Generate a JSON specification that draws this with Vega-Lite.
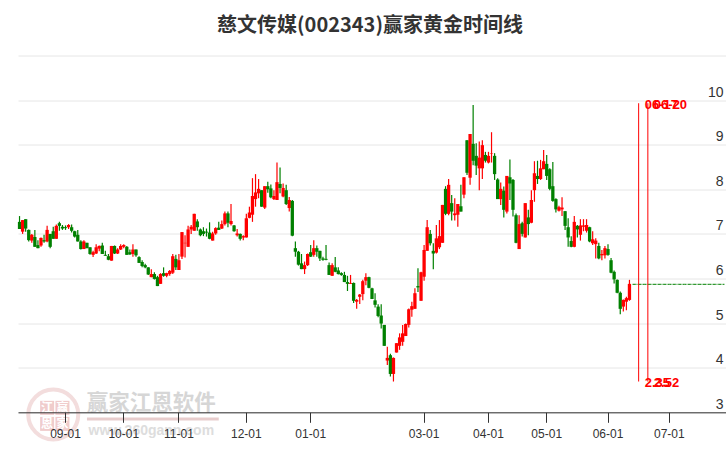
{"$schema":"https://vega.github.io/schema/vega-lite/v6.json","width":708,"height":356.8,"autosize":"none","padding":{"left":18,"top":55.5,"right":0,"bottom":37.7},"background":"white","title":{"text":"慈文传媒(002343)赢家黄金时间线","font":"Noto Sans CJK SC","fontSize":20,"fontWeight":"bold","color":"#333333","anchor":"middle","offset":20,"dx":-2},"config":{"view":{"stroke":null}},"datasets":{"candles":[
{"date":"2023-08-11","open":7.27,"high":7.40,"low":7.11,"close":7.11},
{"date":"2023-08-14","open":7.05,"high":7.31,"low":7.00,"close":7.31},
{"date":"2023-08-15","open":7.33,"high":7.33,"low":7.05,"close":7.12},
{"date":"2023-08-16","open":7.09,"high":7.10,"low":6.83,"close":6.86},
{"date":"2023-08-17","open":6.85,"high":7.00,"low":6.80,"close":6.98},
{"date":"2023-08-18","open":6.93,"high":7.09,"low":6.71,"close":6.71},
{"date":"2023-08-21","open":6.75,"high":6.86,"low":6.68,"close":6.68},
{"date":"2023-08-22","open":6.74,"high":6.92,"low":6.71,"close":6.91},
{"date":"2023-08-23","open":6.86,"high":6.98,"low":6.80,"close":6.83},
{"date":"2023-08-24","open":6.83,"high":7.18,"low":6.81,"close":7.09},
{"date":"2023-08-25","open":7.00,"high":7.00,"low":6.68,"close":6.71},
{"date":"2023-08-28","open":7.06,"high":7.16,"low":6.89,"close":6.89},
{"date":"2023-08-29","open":6.89,"high":7.21,"low":6.89,"close":7.18},
{"date":"2023-08-30","open":7.24,"high":7.27,"low":7.07,"close":7.18},
{"date":"2023-08-31","open":7.16,"high":7.20,"low":7.09,"close":7.12},
{"date":"2023-09-01","open":7.15,"high":7.19,"low":7.09,"close":7.13},
{"date":"2023-09-04","open":7.15,"high":7.22,"low":7.11,"close":7.20},
{"date":"2023-09-05","open":7.15,"high":7.21,"low":7.03,"close":7.07},
{"date":"2023-09-06","open":7.06,"high":7.07,"low":6.92,"close":6.94},
{"date":"2023-09-07","open":6.98,"high":7.09,"low":6.83,"close":6.83},
{"date":"2023-09-08","open":6.83,"high":6.86,"low":6.65,"close":6.66},
{"date":"2023-09-11","open":6.66,"high":6.86,"low":6.66,"close":6.83},
{"date":"2023-09-12","open":6.80,"high":6.80,"low":6.68,"close":6.68},
{"date":"2023-09-13","open":6.70,"high":6.70,"low":6.53,"close":6.55},
{"date":"2023-09-14","open":6.53,"high":6.62,"low":6.48,"close":6.59},
{"date":"2023-09-15","open":6.56,"high":6.77,"low":6.55,"close":6.70},
{"date":"2023-09-18","open":6.67,"high":6.74,"low":6.61,"close":6.73},
{"date":"2023-09-19","open":6.74,"high":6.80,"low":6.55,"close":6.55},
{"date":"2023-09-20","open":6.53,"high":6.62,"low":6.51,"close":6.51},
{"date":"2023-09-21","open":6.50,"high":6.55,"low":6.41,"close":6.42},
{"date":"2023-09-22","open":6.40,"high":6.73,"low":6.40,"close":6.73},
{"date":"2023-09-25","open":6.73,"high":6.74,"low":6.55,"close":6.56},
{"date":"2023-09-26","open":6.56,"high":6.68,"low":6.55,"close":6.65},
{"date":"2023-09-27","open":6.65,"high":6.77,"low":6.64,"close":6.73},
{"date":"2023-10-08","open":6.71,"high":6.77,"low":6.68,"close":6.75},
{"date":"2023-10-09","open":6.71,"high":6.73,"low":6.53,"close":6.53},
{"date":"2023-10-10","open":6.59,"high":6.65,"low":6.53,"close":6.54},
{"date":"2023-10-11","open":6.55,"high":6.77,"low":6.49,"close":6.65},
{"date":"2023-10-12","open":6.65,"high":6.65,"low":6.49,"close":6.52},
{"date":"2023-10-13","open":6.48,"high":6.50,"low":6.35,"close":6.35},
{"date":"2023-10-16","open":6.37,"high":6.41,"low":6.25,"close":6.28},
{"date":"2023-10-17","open":6.30,"high":6.33,"low":6.23,"close":6.25},
{"date":"2023-10-18","open":6.25,"high":6.25,"low":6.08,"close":6.09},
{"date":"2023-10-19","open":6.03,"high":6.21,"low":6.03,"close":6.10},
{"date":"2023-10-20","open":6.10,"high":6.14,"low":5.98,"close":5.99},
{"date":"2023-10-23","open":6.03,"high":6.06,"low":5.83,"close":5.83},
{"date":"2023-10-24","open":5.88,"high":6.12,"low":5.88,"close":6.10},
{"date":"2023-10-25","open":6.12,"high":6.25,"low":6.04,"close":6.06},
{"date":"2023-10-26","open":6.06,"high":6.13,"low":6.03,"close":6.12},
{"date":"2023-10-27","open":6.10,"high":6.19,"low":6.06,"close":6.17},
{"date":"2023-10-30","open":6.13,"high":6.55,"low":6.10,"close":6.50},
{"date":"2023-10-31","open":6.44,"high":6.53,"low":6.19,"close":6.25},
{"date":"2023-11-01","open":6.19,"high":6.55,"low":6.19,"close":6.41},
{"date":"2023-11-02","open":6.49,"high":7.04,"low":6.44,"close":7.04},
{"date":"2023-11-03","open":6.79,"high":6.97,"low":6.47,"close":6.80},
{"date":"2023-11-06","open":6.71,"high":7.18,"low":6.71,"close":7.10},
{"date":"2023-11-07","open":7.10,"high":7.20,"low":7.00,"close":7.16},
{"date":"2023-11-08","open":7.07,"high":7.45,"low":7.07,"close":7.45},
{"date":"2023-11-09","open":7.28,"high":7.33,"low":7.07,"close":7.15},
{"date":"2023-11-10","open":7.10,"high":7.12,"low":6.95,"close":6.97},
{"date":"2023-11-13","open":7.06,"high":7.15,"low":6.95,"close":7.00},
{"date":"2023-11-14","open":7.05,"high":7.12,"low":6.94,"close":7.03},
{"date":"2023-11-15","open":7.03,"high":7.26,"low":6.88,"close":6.89},
{"date":"2023-11-16","open":6.85,"high":7.05,"low":6.85,"close":7.01},
{"date":"2023-11-17","open":7.01,"high":7.15,"low":6.98,"close":7.13},
{"date":"2023-11-20","open":7.14,"high":7.27,"low":7.09,"close":7.09},
{"date":"2023-11-21","open":7.12,"high":7.30,"low":7.11,"close":7.22},
{"date":"2023-11-22","open":7.22,"high":7.50,"low":7.19,"close":7.46},
{"date":"2023-11-23","open":7.46,"high":7.50,"low":7.15,"close":7.25},
{"date":"2023-11-24","open":7.22,"high":7.67,"low":7.19,"close":7.29},
{"date":"2023-11-27","open":7.19,"high":7.20,"low":7.05,"close":7.06},
{"date":"2023-11-28","open":6.97,"high":7.11,"low":6.94,"close":7.01},
{"date":"2023-11-29","open":7.00,"high":7.01,"low":6.85,"close":6.89},
{"date":"2023-11-30","open":6.92,"high":6.97,"low":6.86,"close":6.95},
{"date":"2023-12-01","open":6.92,"high":7.45,"low":6.92,"close":7.35},
{"date":"2023-12-04","open":7.36,"high":7.61,"low":7.35,"close":7.48},
{"date":"2023-12-05","open":7.43,"high":8.25,"low":7.27,"close":7.85},
{"date":"2023-12-06","open":7.78,"high":8.34,"low":7.61,"close":7.93},
{"date":"2023-12-07","open":7.91,"high":8.23,"low":7.80,"close":8.01},
{"date":"2023-12-08","open":7.98,"high":7.98,"low":7.61,"close":7.61},
{"date":"2023-12-11","open":7.59,"high":8.07,"low":7.56,"close":8.07},
{"date":"2023-12-12","open":8.07,"high":8.17,"low":7.92,"close":8.00},
{"date":"2023-12-13","open":8.02,"high":8.11,"low":7.80,"close":7.82},
{"date":"2023-12-14","open":7.78,"high":7.98,"low":7.76,"close":7.85},
{"date":"2023-12-15","open":7.76,"high":8.60,"low":7.76,"close":8.16},
{"date":"2023-12-18","open":8.12,"high":8.49,"low":7.91,"close":8.03},
{"date":"2023-12-19","open":7.84,"high":8.13,"low":7.82,"close":8.03},
{"date":"2023-12-20","open":7.98,"high":8.10,"low":7.65,"close":7.67},
{"date":"2023-12-21","open":7.58,"high":7.83,"low":7.50,"close":7.76},
{"date":"2023-12-22","open":7.74,"high":7.76,"low":6.95,"close":6.96},
{"date":"2023-12-25","open":6.68,"high":6.83,"low":6.49,"close":6.60},
{"date":"2023-12-26","open":6.60,"high":6.62,"low":6.29,"close":6.31},
{"date":"2023-12-27","open":6.34,"high":6.55,"low":6.21,"close":6.21},
{"date":"2023-12-28","open":6.21,"high":6.38,"low":6.10,"close":6.30},
{"date":"2023-12-29","open":6.30,"high":6.56,"low":6.28,"close":6.55},
{"date":"2024-01-02","open":6.59,"high":6.75,"low":6.48,"close":6.49},
{"date":"2024-01-03","open":6.53,"high":6.86,"low":6.49,"close":6.68},
{"date":"2024-01-04","open":6.68,"high":6.74,"low":6.49,"close":6.60},
{"date":"2024-01-05","open":6.62,"high":6.62,"low":6.39,"close":6.45},
{"date":"2024-01-08","open":6.45,"high":6.49,"low":6.40,"close":6.42},
{"date":"2024-01-09","open":6.44,"high":6.75,"low":6.41,"close":6.42},
{"date":"2024-01-10","open":6.30,"high":6.36,"low":6.08,"close":6.08},
{"date":"2024-01-11","open":6.06,"high":6.34,"low":6.06,"close":6.30},
{"date":"2024-01-12","open":6.25,"high":6.48,"low":6.14,"close":6.15},
{"date":"2024-01-15","open":6.18,"high":6.25,"low":6.09,"close":6.10},
{"date":"2024-01-16","open":6.12,"high":6.14,"low":6.06,"close":6.08},
{"date":"2024-01-17","open":6.08,"high":6.15,"low":5.92,"close":5.92},
{"date":"2024-01-18","open":5.92,"high":6.06,"low":5.72,"close":5.88},
{"date":"2024-01-19","open":5.88,"high":6.08,"low":5.88,"close":5.90},
{"date":"2024-01-22","open":5.90,"high":5.91,"low":5.45,"close":5.50},
{"date":"2024-01-23","open":5.48,"high":5.54,"low":5.32,"close":5.52},
{"date":"2024-01-24","open":5.59,"high":5.65,"low":5.43,"close":5.64},
{"date":"2024-01-25","open":5.65,"high":5.97,"low":5.51,"close":5.94},
{"date":"2024-01-26","open":5.95,"high":6.12,"low":5.85,"close":6.03},
{"date":"2024-01-29","open":6.03,"high":6.04,"low":5.78,"close":5.79},
{"date":"2024-01-30","open":5.78,"high":5.79,"low":5.54,"close":5.54},
{"date":"2024-01-31","open":5.51,"high":5.67,"low":5.35,"close":5.41},
{"date":"2024-02-01","open":5.37,"high":5.42,"low":5.13,"close":5.16},
{"date":"2024-02-02","open":5.17,"high":5.42,"low":4.88,"close":4.99},
{"date":"2024-02-05","open":4.96,"high":4.96,"low":4.49,"close":4.49},
{"date":"2024-02-06","open":4.16,"high":4.47,"low":4.06,"close":4.22},
{"date":"2024-02-07","open":4.28,"high":4.31,"low":3.80,"close":3.86},
{"date":"2024-02-08","open":3.86,"high":4.23,"low":3.69,"close":4.22},
{"date":"2024-02-19","open":4.34,"high":4.55,"low":4.34,"close":4.55},
{"date":"2024-02-20","open":4.49,"high":4.77,"low":4.40,"close":4.68},
{"date":"2024-02-21","open":4.58,"high":4.96,"low":4.49,"close":4.77},
{"date":"2024-02-22","open":4.71,"high":4.99,"low":4.71,"close":4.98},
{"date":"2024-02-23","open":4.96,"high":5.33,"low":4.90,"close":5.31},
{"date":"2024-02-26","open":5.30,"high":5.48,"low":5.14,"close":5.38},
{"date":"2024-02-27","open":5.32,"high":5.78,"low":5.32,"close":5.67},
{"date":"2024-02-28","open":5.83,"high":6.23,"low":5.70,"close":5.80},
{"date":"2024-02-29","open":5.50,"high":6.15,"low":5.50,"close":6.14},
{"date":"2024-03-01","open":6.04,"high":6.75,"low":5.95,"close":6.64},
{"date":"2024-03-04","open":6.62,"high":7.31,"low":6.62,"close":7.15},
{"date":"2024-03-05","open":7.00,"high":7.09,"low":6.74,"close":6.79},
{"date":"2024-03-06","open":6.62,"high":6.79,"low":6.21,"close":6.56},
{"date":"2024-03-07","open":6.58,"high":7.20,"low":6.56,"close":6.90},
{"date":"2024-03-08","open":6.70,"high":7.31,"low":6.66,"close":6.95},
{"date":"2024-03-11","open":6.80,"high":7.65,"low":6.80,"close":7.65},
{"date":"2024-03-12","open":8.01,"high":8.07,"low":7.42,"close":7.45},
{"date":"2024-03-13","open":7.45,"high":8.23,"low":7.42,"close":8.10},
{"date":"2024-03-14","open":7.69,"high":7.87,"low":7.30,"close":7.50},
{"date":"2024-03-15","open":7.42,"high":7.80,"low":7.30,"close":7.46},
{"date":"2024-03-18","open":7.43,"high":7.67,"low":7.16,"close":7.67},
{"date":"2024-03-19","open":7.62,"high":8.10,"low":7.50,"close":7.50},
{"date":"2024-03-20","open":7.88,"high":8.27,"low":7.80,"close":8.27},
{"date":"2024-03-21","open":9.10,"high":9.10,"low":8.32,"close":8.37},
{"date":"2024-03-22","open":8.26,"high":9.24,"low":8.10,"close":9.24},
{"date":"2024-03-25","open":9.02,"high":9.89,"low":8.54,"close":8.64},
{"date":"2024-03-26","open":8.75,"high":9.03,"low":8.32,"close":8.53},
{"date":"2024-03-27","open":8.47,"high":9.07,"low":7.98,"close":8.71},
{"date":"2024-03-28","open":8.47,"high":9.10,"low":8.23,"close":8.99},
{"date":"2024-03-29","open":8.77,"high":8.84,"low":8.60,"close":8.64},
{"date":"2024-04-01","open":8.60,"high":8.84,"low":8.58,"close":8.75},
{"date":"2024-04-02","open":8.80,"high":9.28,"low":8.60,"close":8.81},
{"date":"2024-04-03","open":8.75,"high":8.81,"low":8.21,"close":8.34},
{"date":"2024-04-08","open":8.22,"high":8.25,"low":7.78,"close":7.78},
{"date":"2024-04-09","open":7.78,"high":8.15,"low":7.65,"close":8.01},
{"date":"2024-04-10","open":7.97,"high":8.06,"low":7.37,"close":7.54},
{"date":"2024-04-11","open":7.50,"high":8.30,"low":7.46,"close":8.30},
{"date":"2024-04-12","open":8.27,"high":8.67,"low":7.76,"close":8.13},
{"date":"2024-04-15","open":8.21,"high":8.23,"low":7.39,"close":7.54},
{"date":"2024-04-16","open":7.42,"high":7.46,"low":6.79,"close":6.80},
{"date":"2024-04-17","open":6.66,"high":7.42,"low":6.66,"close":7.22},
{"date":"2024-04-18","open":7.24,"high":7.27,"low":6.94,"close":7.00},
{"date":"2024-04-19","open":6.92,"high":7.69,"low":6.92,"close":7.69},
{"date":"2024-04-22","open":7.37,"high":7.54,"low":6.97,"close":7.22},
{"date":"2024-04-23","open":7.25,"high":7.98,"low":7.24,"close":7.76},
{"date":"2024-04-24","open":7.98,"high":8.63,"low":7.72,"close":8.36},
{"date":"2024-04-25","open":8.30,"high":8.64,"low":8.12,"close":8.23},
{"date":"2024-04-26","open":8.23,"high":8.66,"low":8.21,"close":8.47},
{"date":"2024-04-29","open":8.45,"high":8.88,"low":8.45,"close":8.63},
{"date":"2024-05-06","open":8.57,"high":8.77,"low":8.21,"close":8.30},
{"date":"2024-05-07","open":8.45,"high":8.47,"low":7.98,"close":8.01},
{"date":"2024-05-08","open":8.07,"high":8.61,"low":7.72,"close":7.74},
{"date":"2024-05-09","open":7.78,"high":7.80,"low":7.48,"close":7.55},
{"date":"2024-05-10","open":7.52,"high":7.63,"low":7.50,"close":7.60},
{"date":"2024-05-13","open":7.55,"high":7.82,"low":7.40,"close":7.59},
{"date":"2024-05-14","open":7.51,"high":7.51,"low":7.09,"close":7.18},
{"date":"2024-05-15","open":7.15,"high":7.35,"low":6.71,"close":6.92},
{"date":"2024-05-16","open":6.84,"high":6.95,"low":6.70,"close":6.71},
{"date":"2024-05-17","open":6.71,"high":7.40,"low":6.70,"close":7.27},
{"date":"2024-05-20","open":7.18,"high":7.20,"low":6.92,"close":7.10},
{"date":"2024-05-21","open":6.98,"high":7.33,"low":6.85,"close":7.19},
{"date":"2024-05-22","open":7.16,"high":7.33,"low":7.06,"close":7.19},
{"date":"2024-05-23","open":7.07,"high":7.33,"low":7.03,"close":7.20},
{"date":"2024-05-24","open":7.15,"high":7.16,"low":6.81,"close":6.83},
{"date":"2024-05-27","open":6.79,"high":7.06,"low":6.75,"close":6.88},
{"date":"2024-05-28","open":6.77,"high":6.90,"low":6.45,"close":6.85},
{"date":"2024-05-29","open":6.73,"high":6.80,"low":6.43,"close":6.45},
{"date":"2024-05-30","open":6.52,"high":6.64,"low":6.41,"close":6.55},
{"date":"2024-05-31","open":6.52,"high":6.73,"low":6.45,"close":6.68},
{"date":"2024-06-03","open":6.66,"high":6.77,"low":6.51,"close":6.53},
{"date":"2024-06-04","open":6.41,"high":6.46,"low":6.12,"close":6.13},
{"date":"2024-06-05","open":6.15,"high":6.18,"low":5.89,"close":5.98},
{"date":"2024-06-06","open":5.97,"high":5.98,"low":5.67,"close":5.68},
{"date":"2024-06-07","open":5.68,"high":5.71,"low":5.20,"close":5.32},
{"date":"2024-06-10","open":5.37,"high":5.53,"low":5.26,"close":5.52},
{"date":"2024-06-11","open":5.48,"high":5.59,"low":5.29,"close":5.56},
{"date":"2024-06-12","open":5.52,"high":5.97,"low":5.50,"close":5.88}
],"guide":[
{"date":"2024-06-13","level":5.87},{"date":"2024-06-14","level":5.87},{"date":"2024-06-17","level":5.87},{"date":"2024-06-18","level":5.87},{"date":"2024-06-19","level":5.87},{"date":"2024-06-20","level":5.87},{"date":"2024-06-21","level":5.87},{"date":"2024-06-24","level":5.87},{"date":"2024-06-25","level":5.87},{"date":"2024-06-26","level":5.87},{"date":"2024-06-27","level":5.87},{"date":"2024-06-28","level":5.87},{"date":"2024-07-01","level":5.87},{"date":"2024-07-02","level":5.87},{"date":"2024-07-03","level":5.87},{"date":"2024-07-04","level":5.87},{"date":"2024-07-05","level":5.87},{"date":"2024-07-08","level":5.87},{"date":"2024-07-09","level":5.87},{"date":"2024-07-10","level":5.87},{"date":"2024-07-11","level":5.87},{"date":"2024-07-12","level":5.87},{"date":"2024-07-15","level":5.87},{"date":"2024-07-16","level":5.87},{"date":"2024-07-17","level":5.87},{"date":"2024-07-18","level":5.87},{"date":"2024-07-19","level":5.87},{"date":"2024-07-22","level":5.87},{"date":"2024-07-23","level":5.87},{"date":"2024-07-24","level":5.87},{"date":"2024-07-25","level":5.87}
],"timelines":[
{"date":"2024-06-17","from":3.69,"to":9.93,"label":"06-17","ratio":"2.35"},
{"date":"2024-06-20","from":3.69,"to":9.93,"label":"06-20","ratio":"2.52"}
],"wmtext":[
{"date":"2023-10-19","price":3.19,"text":"赢家江恩软件"}
],"wmurl":[
{"date":"2023-10-19","price":2.58,"text":"www.360gann.com"}
],"wmbar":[
{"date":"2023-09-12","end":"2023-11-20","price":2.85}
],"wmring":[
{"date":"2023-08-28","price":2.95}
],"wmbox":[
{"date":"2023-08-24","price":3.1,"text":"江"},
{"date":"2023-08-31","price":3.1,"text":"赢"},
{"date":"2023-08-24","price":2.74,"text":"恩"},
{"date":"2023-08-31","price":2.74,"text":"家"}
]},
"encoding":{"x":{"field":"date","type":"ordinal","scale":{"type":"band","paddingInner":0,"paddingOuter":0},"axis":{"title":null,"zindex":1,"values":["2023-09-01","2023-10-08","2023-11-01","2023-12-01","2024-01-02","2024-03-01","2024-04-01","2024-05-06","2024-06-03","2024-07-01"],"labelExpr":"slice(datum.value,5,7)+'-01'","labelAngle":0,"labelFont":"Liberation Sans","labelFontSize":12,"labelColor":"#333333","labelPadding":6,"labelOverlap":false,"labelFlush":false,"tickSize":10,"tickColor":"#333333","domainColor":"#333333","tickWidth":1,"domainWidth":1,"grid":false}}},
"layer":[
{"data":{"name":"wmring"},"mark":{"type":"point","shape":"circle","size":2500,"filled":false,"stroke":"#eecfcf","strokeWidth":4,"clip":false},"encoding":{"y":{"field":"price","type":"quantitative","scale":{"domain":[3,11],"nice":false,"zero":false},"axis":{"orient":"right","title":null,"values":[3,4,5,6,7,8,9,10,11],"labelExpr":"datum.value==11?'':datum.value","grid":true,"gridColor":"#e6e6e6","gridWidth":1,"domain":false,"ticks":false,"labelFont":"Liberation Sans","labelFontSize":14,"labelColor":"#333333","labelAlign":"right","labelBaseline":"bottom","labelPadding":-3,"labelOffset":-1}}}},
{"data":{"name":"wmbox"},"mark":{"type":"point","shape":"square","size":196,"filled":true,"fill":"#f0cccc","opacity":1,"clip":false},"encoding":{"y":{"field":"price","type":"quantitative"}}},
{"data":{"name":"wmbox"},"mark":{"type":"text","font":"Noto Sans CJK SC","fontSize":12,"fontWeight":"bold","color":"#ffffff","clip":false},"encoding":{"y":{"field":"price","type":"quantitative"},"text":{"field":"text"}}},
{"data":{"name":"wmtext"},"mark":{"type":"text","font":"Noto Sans CJK SC","fontSize":21.5,"fontWeight":"bold","color":"#d6d6d6","clip":false},"encoding":{"y":{"field":"price","type":"quantitative"},"text":{"field":"text"}}},
{"data":{"name":"wmbar"},"mark":{"type":"rule","color":"#e8cdcd","strokeWidth":3,"clip":false},"encoding":{"y":{"field":"price","type":"quantitative"},"x2":{"field":"end"}}},
{"data":{"name":"wmurl"},"mark":{"type":"text","font":"Liberation Sans","fontSize":14,"fontWeight":"bold","color":"#dddddd","clip":false},"encoding":{"y":{"field":"price","type":"quantitative"},"text":{"field":"text"}}},
{"data":{"name":"candles"},"mark":{"type":"rule","strokeWidth":1.2},"encoding":{"y":{"field":"low","type":"quantitative"},"y2":{"field":"high"},"color":{"condition":{"test":"datum.close>=datum.open","value":"#ff0000"},"value":"#008000"}}},
{"data":{"name":"candles"},"mark":{"type":"bar","size":3.3},"encoding":{"y":{"field":"open","type":"quantitative"},"y2":{"field":"close"},"color":{"condition":{"test":"datum.close>=datum.open","value":"#ff0000"},"value":"#008000"}}},
{"data":{"name":"guide"},"mark":{"type":"line","color":"#008000","strokeWidth":1,"strokeDash":[4,1]},"encoding":{"y":{"field":"level","type":"quantitative"}}},
{"data":{"name":"timelines"},"mark":{"type":"rule","color":"#ff0000","strokeWidth":1},"encoding":{"y":{"field":"from","type":"quantitative"},"y2":{"field":"to"}}},
{"data":{"name":"timelines"},"mark":{"type":"text","font":"Liberation Sans","fontSize":13,"fontWeight":"bold","color":"#ff0000","align":"left","baseline":"middle","dx":6,"dy":2},"encoding":{"y":{"field":"to","type":"quantitative"},"text":{"field":"label"}}},
{"data":{"name":"timelines"},"mark":{"type":"text","font":"Liberation Sans","fontSize":13,"fontWeight":"bold","color":"#ff0000","align":"left","baseline":"middle","dx":6,"dy":1},"encoding":{"y":{"field":"from","type":"quantitative"},"text":{"field":"ratio"}}}
]}
